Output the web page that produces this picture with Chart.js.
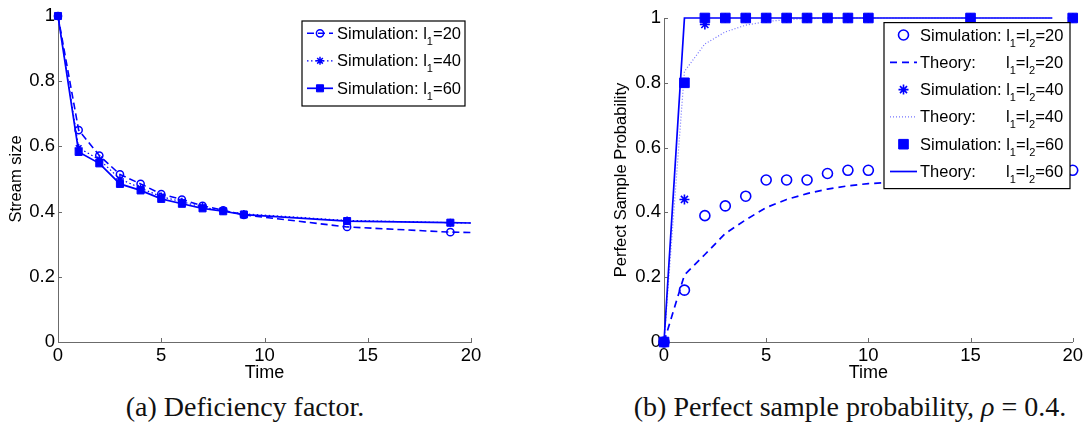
<!DOCTYPE html>
<html>
<head>
<meta charset="utf-8">
<script src="https://cdn.jsdelivr.net/npm/chart.js"></script>
<style>
  html, body { margin: 0; padding: 0; background: #fff; }
  body { width: 1086px; height: 427px; position: relative; overflow: hidden; }
  canvas { position: absolute; top: 0; }
  #chart-a { left: 0; }
  #chart-b { left: 543px; }
  .caption {
    position: absolute; top: 391px; line-height: 32px;
    font-family: 'Liberation Serif', 'Times New Roman', serif; font-size: 28px;
    color: #111; white-space: nowrap; transform: translateX(-50%);
  }
</style>
</head>
<body>
<canvas id="chart-a" width="543" height="384"></canvas>
<canvas id="chart-b" width="543" height="384"></canvas>
<div class="caption" style="left:245px;">(a) Deficiency factor.</div>
<div class="caption" style="left:850px;">(b) Perfect sample probability, <i>ρ</i> = 0.4.</div>
<script>
// ---- (a) stream size ----
const timeA = [0, 1, 2, 3, 4, 5, 6, 7, 8, 9, 14, 19, 20];
const sizeL20 = [1.0, 0.650, 0.572, 0.514, 0.485, 0.454, 0.437, 0.418, 0.404, 0.390, 0.353, 0.337, 0.336];
const sizeL40 = [1.0, 0.595, 0.560, 0.500, 0.472, 0.446, 0.430, 0.414, 0.402, 0.393, 0.373, 0.366, 0.365];
const sizeL60 = [1.0, 0.583, 0.548, 0.485, 0.465, 0.439, 0.424, 0.410, 0.401, 0.391, 0.371, 0.366, 0.365];

// ---- (b) perfect sample probability ----
const timeB = [0, 1, 2, 3, 4, 5, 6, 7, 8, 9, 10, 15, 20];
const simL20 = [0, 0.16, 0.39, 0.42, 0.45, 0.50, 0.50, 0.50, 0.52, 0.53, 0.53, 0.53, 0.53];
const simL40 = [0, 0.44, 0.98, 1, 1, 1, 1, 1, 1, 1, 1, 1, 1];
const simL60 = [0, 0.80, 1, 1, 1, 1, 1, 1, 1, 1, 1, 1, 1];

const theoryTime = [0, 1, 2, 3, 4, 5, 6, 7, 8, 9, 10, 11, 12, 13, 14, 15, 16, 17, 18, 19];
const theoryL20 = [0, 0.207, 0.270, 0.335, 0.377, 0.415, 0.440, 0.458, 0.472, 0.482, 0.489, 0.492, 0.495, 0.497, 0.498, 0.499, 0.499, 0.5, 0.5, 0.5];
const theoryL40 = [0, 0.835, 0.920, 0.957, 0.978, 0.989, 0.995, 0.998, 0.999, 1, 1, 1, 1, 1, 1, 1, 1, 1, 1, 1];
const theoryL60 = [0, 1, 1, 1, 1, 1, 1, 1, 1, 1, 1, 1, 1, 1, 1, 1, 1, 1, 1, 1];

// ---- axes ----
const xTicks = [0, 5, 10, 15, 20];
const xTickLabels = ['0', '5', '10', '15', '20'];
const yTicks = [0, 0.2, 0.4, 0.6, 0.8, 1];
const yTickLabels = ['0', '0.2', '0.4', '0.6', '0.8', '1'];

const BLUE = '#0000ff';
const AXIS = '#6b6b6b';
const SANS = "'Liberation Sans', Arial, Helvetica, sans-serif";

Chart.defaults.font.family = SANS;
Chart.defaults.color = '#000';

function pts(xs, ys) {
  return xs.map((x, i) => ({ x, y: ys[i] }));
}

// MATLAB style: small tick marks pointing into the plot
const inwardTicks = {
  id: 'inwardTicks',
  beforeDatasetsDraw(chart) {
    const { ctx, chartArea: a, scales: { x, y } } = chart;
    ctx.save();
    ctx.strokeStyle = AXIS;
    ctx.lineWidth = 1;
    ctx.beginPath();
    x.ticks.forEach((t) => {
      const px = Math.round(x.getPixelForValue(t.value)) + 0.5;
      ctx.moveTo(px, a.bottom);
      ctx.lineTo(px, a.bottom - 4);
    });
    y.ticks.forEach((t) => {
      const py = Math.round(y.getPixelForValue(t.value)) + 0.5;
      ctx.moveTo(a.left, py);
      ctx.lineTo(a.left + 4, py);
    });
    ctx.stroke();
    ctx.restore();
  },
};

// text with "_1" subscripts and "\t" jumping to a column
function drawRich(ctx, text, x, cy, tabX) {
  const base = cy + 5.5;
  let cx = x;
  ctx.fillStyle = '#000';
  ctx.textAlign = 'left';
  ctx.textBaseline = 'alphabetic';
  text.split(/(_\d|\t)/).forEach((p) => {
    if (!p) return;
    if (p === '\t') { cx = tabX; return; }
    if (p[0] === '_') {
      ctx.font = `11px ${SANS}`;
      ctx.fillText(p[1], cx, base + 6);
      cx += ctx.measureText(p[1]).width;
      return;
    }
    ctx.font = `16.5px ${SANS}`;
    ctx.fillText(p, cx, base);
    cx += ctx.measureText(p).width;
  });
}

// boxed legend drawn over the plot
const boxLegend = {
  id: 'boxLegend',
  afterDatasetsDraw(chart, args, o) {
    const { ctx } = chart;
    ctx.save();
    ctx.setLineDash([]);
    ctx.fillStyle = '#fff';
    ctx.fillRect(o.left, o.top, o.width, o.height);
    ctx.strokeStyle = '#000';
    ctx.lineWidth = 1.2;
    ctx.strokeRect(o.left, o.top, o.width, o.height);
    o.items.forEach((item, i) => {
      const ds = chart.data.datasets[item.dataset];
      const cy = o.top + o.rowStart + i * o.rowStep;
      if (ds.showLine !== false) {
        ctx.beginPath();
        ctx.setLineDash(ds.borderDash || []);
        ctx.strokeStyle = ds.borderColor;
        ctx.lineWidth = ds.borderWidth;
        ctx.moveTo(o.left + o.lineFrom, cy);
        ctx.lineTo(o.left + o.lineTo, cy);
        ctx.stroke();
      }
      const r = Array.isArray(ds.pointRadius) ? ds.pointRadius[0] : ds.pointRadius;
      if (r > 0) {
        ctx.setLineDash([]);
        ctx.fillStyle = ds.pointBackgroundColor;
        ctx.strokeStyle = ds.pointBorderColor;
        ctx.lineWidth = ds.pointBorderWidth;
        Chart.helpers.drawPoint(ctx, { pointStyle: ds.pointStyle, radius: r, rotation: 0, borderWidth: ds.pointBorderWidth },
          o.left + (o.lineFrom + o.lineTo) / 2, cy);
      }
      drawRich(ctx, item.text, o.left + o.textX, cy, o.left + o.tabX);
    });
    ctx.restore();
  },
};

function makeScales(yTitle, yWidth, yTitlePad) {
  return {
    x: {
      type: 'linear', min: 0, max: 20,
      afterBuildTicks: (s) => { s.ticks = xTicks.map((value) => ({ value })); },
      afterFit: (s) => { s.height = 42; },
      grid: { display: false, drawTicks: false },
      border: { display: true, color: AXIS, width: 1 },
      ticks: { color: '#000', font: { size: 18.5 }, padding: 3, maxRotation: 0, autoSkip: false,
        callback: (v, i) => xTickLabels[i] },
      title: { display: true, text: 'Time', color: '#000', font: { size: 18 }, padding: { top: 0, bottom: 0 } },
    },
    y: {
      type: 'linear', min: 0, max: 1,
      afterBuildTicks: (s) => { s.ticks = yTicks.map((value) => ({ value })); },
      afterFit: (s) => { s.width = yWidth; },
      grid: { display: false, drawTicks: false },
      border: { display: true, color: AXIS, width: 1 },
      ticks: { color: '#000', font: { size: 18.5 }, padding: 3, autoSkip: false,
        callback: (v, i) => yTickLabels[i] },
      title: { display: true, text: yTitle, color: '#000', font: { size: 16.5 }, padding: { top: yTitlePad, bottom: 0 } },
    },
  };
}

const common = {
  responsive: false,
  animation: false,
  events: [],
  plugins: { legend: { display: false }, tooltip: { enabled: false } },
};

// ---- (a) ----
const lastHidden = (r) => timeA.map((t, i) => (i < timeA.length - 1 ? r : 0));

new Chart(document.getElementById('chart-a'), {
  type: 'line',
  data: {
    datasets: [
      {
        data: pts(timeA, sizeL20), borderColor: BLUE, borderWidth: 1.6, borderDash: [7, 4],
        pointStyle: 'circle', pointRadius: lastHidden(3.6), pointBorderColor: BLUE,
        pointBackgroundColor: 'rgba(0,0,0,0)', pointBorderWidth: 1.5, order: 2, clip: false,
      },
      {
        data: pts(timeA, sizeL40), borderColor: BLUE, borderWidth: 1.2, borderDash: [1.5, 2.5],
        pointStyle: 'star', pointRadius: lastHidden(4), pointBorderColor: BLUE,
        pointBackgroundColor: BLUE, pointBorderWidth: 1.5, order: 1, clip: false,
      },
      {
        data: pts(timeA, sizeL60), borderColor: BLUE, borderWidth: 1.7,
        pointStyle: 'rect', pointRadius: lastHidden(5), pointBorderColor: BLUE,
        pointBackgroundColor: BLUE, pointBorderWidth: 1, order: 0, clip: false,
      },
    ],
  },
  options: {
    ...common,
    layout: { padding: { left: 0, right: 72, top: 16, bottom: 0 } },
    scales: makeScales('Stream size', 58, 6.6),
    plugins: {
      ...common.plugins,
      boxLegend: {
        left: 302, top: 21, width: 163, height: 85,
        rowStart: 12.3, rowStep: 27.5, lineFrom: 5, lineTo: 31, textX: 35, tabX: 0,
        items: [
          { dataset: 0, text: 'Simulation: l_1=20' },
          { dataset: 1, text: 'Simulation: l_1=40' },
          { dataset: 2, text: 'Simulation: l_1=60' },
        ],
      },
    },
  },
  plugins: [inwardTicks, boxLegend],
});

// ---- (b) ----
new Chart(document.getElementById('chart-b'), {
  type: 'line',
  data: {
    datasets: [
      {
        data: pts(timeB, simL20), showLine: false,
        pointStyle: 'circle', pointRadius: 5, pointBorderColor: BLUE,
        pointBackgroundColor: 'rgba(0,0,0,0)', pointBorderWidth: 1.6, order: 5, clip: false,
      },
      {
        data: pts(theoryTime, theoryL20), borderColor: BLUE, borderWidth: 1.7, borderDash: [7, 5],
        pointRadius: 0, order: 4, clip: false,
      },
      {
        data: pts(timeB, simL40), showLine: false,
        pointStyle: 'star', pointRadius: 5, pointBorderColor: BLUE,
        pointBackgroundColor: BLUE, pointBorderWidth: 1.6, order: 3, clip: false,
      },
      {
        data: pts(theoryTime, theoryL40), borderColor: 'rgba(0,0,255,0.55)', borderWidth: 1.2, borderDash: [1, 2],
        pointRadius: 0, order: 2, clip: false,
      },
      {
        data: pts(timeB, simL60), showLine: false,
        pointStyle: 'rect', pointRadius: 6.8, pointBorderColor: BLUE,
        pointBackgroundColor: BLUE, pointBorderWidth: 1, order: 1, clip: false,
      },
      {
        data: pts(theoryTime, theoryL60), borderColor: BLUE, borderWidth: 1.7,
        pointRadius: 0, order: 0, clip: false,
      },
    ],
  },
  options: {
    ...common,
    layout: { padding: { left: 0, right: 11, top: 18, bottom: 0 } },
    scales: makeScales('Perfect Sample Probability', 121, 69),
    plugins: {
      ...common.plugins,
      boxLegend: {
        left: 341, top: 22.6, width: 186, height: 166,
        rowStart: 12.4, rowStep: 27.3, lineFrom: 6, lineTo: 33, textX: 36, tabX: 122,
        items: [
          { dataset: 0, text: 'Simulation: l_1=l_2=20' },
          { dataset: 1, text: 'Theory:\tl_1=l_2=20' },
          { dataset: 2, text: 'Simulation: l_1=l_2=40' },
          { dataset: 3, text: 'Theory:\tl_1=l_2=40' },
          { dataset: 4, text: 'Simulation: l_1=l_2=60' },
          { dataset: 5, text: 'Theory:\tl_1=l_2=60' },
        ],
      },
    },
  },
  plugins: [inwardTicks, boxLegend],
});
</script>
</body>
</html>
